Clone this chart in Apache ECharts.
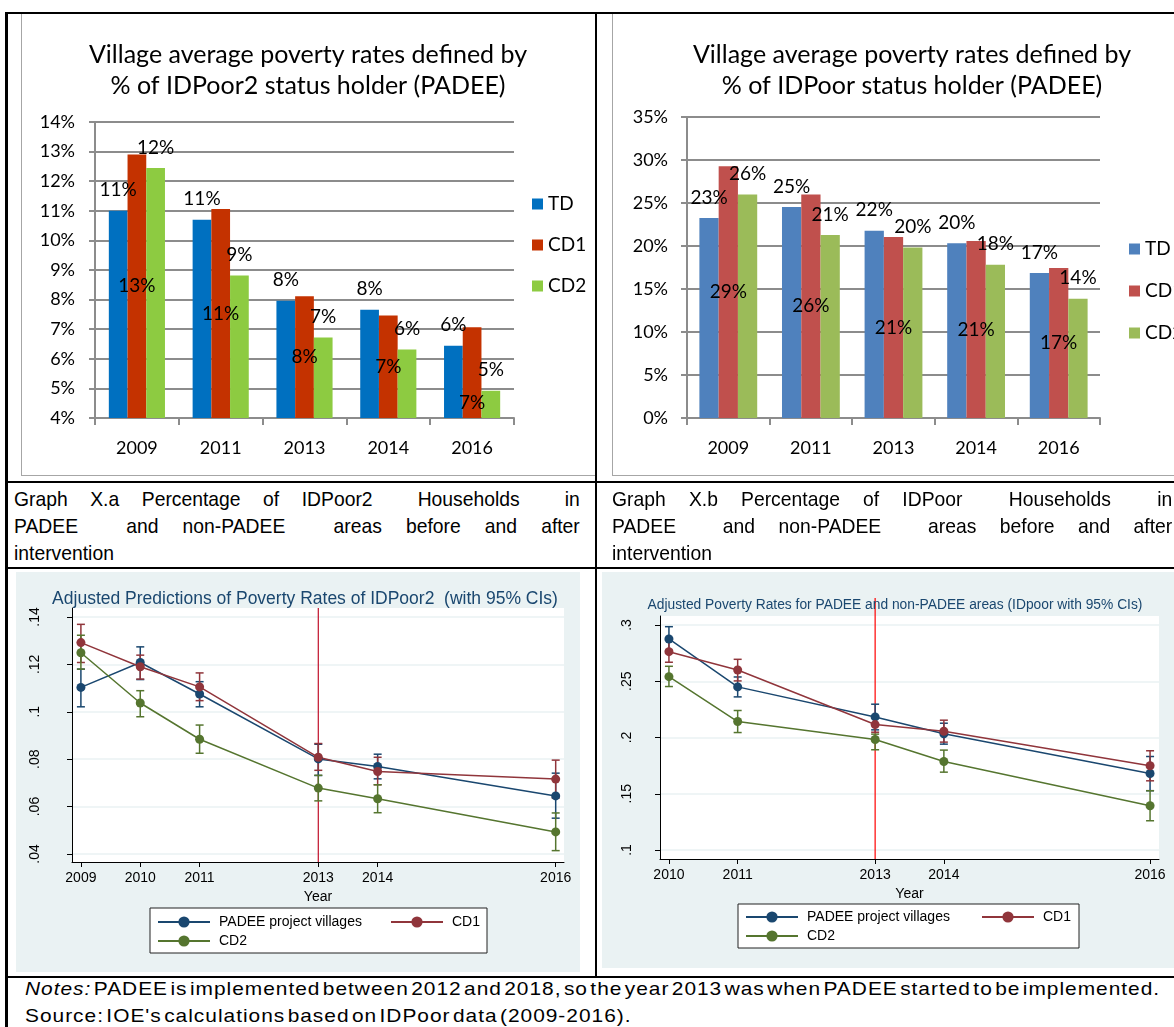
<!DOCTYPE html>
<html><head><meta charset="utf-8">
<script src="https://cdn.jsdelivr.net/npm/echarts@6/dist/echarts.min.js"></script>
<style>
html,body{margin:0;padding:0;background:#fff;}
body{width:1174px;height:1027px;overflow:hidden;position:relative;}
.abs{position:absolute;}
.bl{position:absolute;background:#000;}
.frame{position:absolute;border:1px solid #a6a6a6;box-sizing:border-box;pointer-events:none;}
.cap{position:absolute;font-family:"Liberation Sans",Arial,sans-serif;font-size:21px;line-height:27px;color:#000;transform:scaleX(0.92);transform-origin:0 0;}
.cap .j{text-align:justify;text-align-last:justify;white-space:pre-wrap;}
.note{position:absolute;font-family:"Liberation Sans",Arial,sans-serif;font-size:19px;line-height:27px;color:#000;white-space:nowrap;letter-spacing:0.9px;word-spacing:-4px;transform:scaleX(1.1);transform-origin:0 0;}
</style></head><body>
<div id="cA" class="abs" style="left:21px;top:14px;width:574px;height:461px;"></div>
<div class="frame" style="left:21px;top:13px;width:575px;height:463px;"></div>
<div id="cB" class="abs" style="left:612px;top:14px;width:600px;height:461px;"></div>
<div class="frame" style="left:612px;top:13px;width:620px;height:463px;"></div>
<div id="cC" class="abs" style="left:16px;top:572px;width:564px;height:400px;"></div>
<div id="cD" class="abs" style="left:602px;top:572px;width:600px;height:396px;"></div>

<div class="cap" style="left:14px;top:485px;width:615px;">
  <div class="j">Graph X.a Percentage of IDPoor2  Households  in</div>
  <div class="j">PADEE  and non-PADEE  areas before and after</div>
  <div>intervention</div>
</div>
<div class="cap" style="left:612px;top:485px;width:609px;">
  <div class="j">Graph X.b Percentage of IDPoor  Households  in</div>
  <div class="j">PADEE  and non-PADEE  areas before and after</div>
  <div>intervention</div>
</div>
<div class="note" style="left:25px;top:975px;"><i>Notes:</i> PADEE is implemented between 2012 and 2018, so the year 2013 was when PADEE started to be implemented.<br>Source: IOE's calculations based on IDPoor data (2009-2016).</div>

<div class="bl" style="left:5px;top:12px;width:1169px;height:2px;"></div>
<div class="bl" style="left:5px;top:12px;width:3px;height:1015px;"></div>
<div class="bl" style="left:595px;top:12px;width:2px;height:966px;"></div>
<div class="bl" style="left:5px;top:481px;width:1169px;height:2px;"></div>
<div class="bl" style="left:5px;top:567px;width:1169px;height:2px;"></div>
<div class="bl" style="left:5px;top:976px;width:1169px;height:2px;"></div>

<script>
// ---------- Top charts data ----------
const barYears = ['2009', '2011', '2013', '2014', '2016'];
const seriesNames = ['TD', 'CD1', 'CD2'];
// Graph X.a (IDPoor2), percent
const tdA = [11.0, 10.7, 7.96, 7.66, 6.44];
const cd1A = [12.9, 11.06, 8.11, 7.46, 7.07];
const cd2A = [12.45, 8.81, 6.72, 6.31, 4.92];
// Graph X.b (IDPoor), percent
const tdB = [23.26, 24.53, 21.78, 20.31, 16.86];
const cd1B = [29.26, 26.0, 21.05, 20.58, 17.45];
const cd2B = [26.0, 21.28, 19.84, 17.83, 13.88];

// ---------- Bottom charts data ----------
const intervention = 2013;
// Left (IDPoor2) — axis positions and printed labels
const posC = [2009, 2010, 2011, 2013, 2014, 2017];
const labC = ['2009', '2010', '2011', '2013', '2014', '2016'];
const yTicksC = [0.04, 0.06, 0.08, 0.10, 0.12, 0.14];
const padeeC = [0.1103, 0.1208, 0.1075, 0.0801, 0.0769, 0.0645];
const padeeCLo = [0.1021, 0.1136, 0.1021, 0.0731, 0.0717, 0.0551];
const padeeCHi = [0.1180, 0.1274, 0.1127, 0.0863, 0.0821, 0.0741];
const cd1C = [0.1292, 0.1190, 0.1105, 0.0808, 0.0748, 0.0716];
const cd1CLo = [0.1208, 0.1138, 0.1047, 0.0753, 0.0692, 0.0636];
const cd1CHi = [0.1369, 0.1239, 0.1164, 0.0866, 0.0808, 0.0796];
const cd2C = [0.1249, 0.1037, 0.0884, 0.0678, 0.0633, 0.0493];
const cd2CLo = [0.1180, 0.0979, 0.0825, 0.0624, 0.0574, 0.0414];
const cd2CHi = [0.1323, 0.1089, 0.0944, 0.0732, 0.0692, 0.0573];
// Right (IDpoor)
const posD = [2010, 2011, 2013, 2014, 2017];
const labD = ['2010', '2011', '2013', '2014', '2016'];
const yTicksD = [0.10, 0.15, 0.20, 0.25, 0.30];
const padeeD = [0.2876, 0.2450, 0.2183, 0.2033, 0.1680];
const padeeDLo = [0.2775, 0.2361, 0.2068, 0.1941, 0.1527];
const padeeDHi = [0.2985, 0.2538, 0.2296, 0.2127, 0.1831];
const cd1D = [0.2763, 0.2600, 0.2115, 0.2056, 0.1749];
const cd1DLo = [0.2669, 0.2503, 0.2047, 0.1959, 0.1615];
const cd1DHi = [0.2867, 0.2695, 0.2186, 0.2154, 0.1882];
const cd2D = [0.2541, 0.2142, 0.1982, 0.1787, 0.1393];
const cd2DLo = [0.2453, 0.2044, 0.1891, 0.1692, 0.1260];
const cd2DHi = [0.2633, 0.2240, 0.2030, 0.1888, 0.1527];
const lineNames = ['PADEE project villages', 'CD1', 'CD2'];

const CAL = 'Lato, "Open Sans", sans-serif';
const ARIAL = '"Liberation Sans", Arial, sans-serif';
const GRID_GRAY = '#8c8c8c';

function barChart(el, o) {
  const ch = echarts.init(el, null, {renderer: 'canvas'});
  const pct = p => Math.round(p.value) + '%';
  const lab = (pos) => ({show: true, position: pos, distance: 11, formatter: pct,
    color: '#000', fontFamily: CAL, fontSize: 19});
  const cd1Data = o.cd1.map((v, i) => (o.cd1Offset && o.cd1Offset[i]) ? {value: v, label: {offset: o.cd1Offset[i]}} : v);
  ch.setOption({
    animation: false,
    title: {text: o.title, left: 'center', top: 20,
      textStyle: {fontFamily: CAL, fontSize: 25, fontWeight: 'normal', lineHeight: 31, color: '#000'}},
    legend: {orient: 'vertical', left: o.legendLeft, top: o.legendTop, icon: 'rect', padding: 0,
      itemWidth: 11, itemHeight: 11, itemGap: o.legendGap,
      textStyle: {fontFamily: CAL, fontSize: 19, lineHeight: 20, color: '#000'},
      data: seriesNames},
    grid: o.grid,
    xAxis: {type: 'category', data: barYears,
      axisLine: {lineStyle: {color: GRID_GRAY, width: 2}},
      axisTick: {show: true, length: 7, alignWithLabel: false, lineStyle: {color: GRID_GRAY, width: 2}},
      axisLabel: {fontFamily: CAL, fontSize: 18, color: '#000', margin: 21}},
    yAxis: {type: 'value', min: o.min, max: o.max, interval: o.interval,
      axisLine: {show: true, lineStyle: {color: GRID_GRAY, width: 2}},
      axisTick: {show: true, length: 6, lineStyle: {color: GRID_GRAY, width: 2}},
      splitLine: {lineStyle: {color: GRID_GRAY, width: 2}},
      axisLabel: {formatter: '{value}%', fontFamily: CAL, fontSize: 18, color: '#000', margin: o.yMargin}},
    series: [
      {name: 'TD', type: 'bar', data: o.td, itemStyle: {color: o.colors[0]}, label: lab('top'),
        barGap: '0%', barCategoryGap: o.catGap},
      {name: 'CD1', type: 'bar', data: cd1Data, itemStyle: {color: o.colors[1]}, label: lab('inside')},
      {name: 'CD2', type: 'bar', data: o.cd2, itemStyle: {color: o.colors[2]}, label: lab('top')}
    ]
  });
}

barChart(document.getElementById('cA'), {
  title: 'Village average poverty rates defined by\n% of IDPoor2 status holder (PADEE)',
  grid: {left: 74, top: 108, width: 419, height: 296},
  min: 4, max: 14, interval: 1, catGap: '33%', yMargin: 20,
  td: tdA, cd1: cd1A, cd2: cd2A, cd1Offset: [null, null, null, null, [0, 30]],
  colors: ['#0070C0', '#C43200', '#8DCB41'],
  legendLeft: 511, legendTop: 180, legendGap: 21
});
barChart(document.getElementById('cB'), {
  title: 'Village average poverty rates defined by\n% of IDPoor status holder (PADEE)',
  grid: {left: 75, top: 103, width: 413, height: 301},
  min: 0, max: 35, interval: 5, catGap: '30%', yMargin: 19,
  td: tdB, cd1: cd1B, cd2: cd2B,
  colors: ['#4F81BD', '#C0504D', '#9BBB59'],
  legendLeft: 517, legendTop: 225, legendGap: 22
});

function tickFmt(v) { return String(+v.toFixed(2)).replace(/^0/, ''); }

function lineChart(el, o) {
  const ch = echarts.init(el, null, {renderer: 'canvas'});
  const colors = ['#1a476f', '#90353b', '#55752f'];
  const mains = [o.padee, o.cd1, o.cd2];
  const los = [o.padeeLo, o.cd1Lo, o.cd2Lo];
  const his = [o.padeeHi, o.cd1Hi, o.cd2Hi];
  const series = [];
  // red intervention line
  series.push({type: 'custom', name: 'intervention', silent: true, z: 1,
    renderItem: (params, api) => {
      const x = api.coord([api.value(0), o.yMin])[0];
      const cs = params.coordSys;
      return {type: 'line', shape: {x1: x, y1: cs.y - o.redExt, x2: x, y2: cs.y + cs.height},
        style: {stroke: o.redColor, lineWidth: 1.2}};
    },
    data: [[intervention]]});
  // error bars (95% CIs)
  for (let k = 0; k < 3; k++) {
    series.push({type: 'custom', name: 'ci' + k, silent: true, z: 2,
      renderItem: (params, api) => {
        const pl = api.coord([api.value(0), api.value(1)]);
        const ph = api.coord([api.value(0), api.value(2)]);
        const w = 4;
        const st = {stroke: colors[k], lineWidth: 1.5};
        return {type: 'group', children: [
          {type: 'line', shape: {x1: pl[0], y1: pl[1], x2: ph[0], y2: ph[1]}, style: st},
          {type: 'line', shape: {x1: pl[0] - w, y1: pl[1], x2: pl[0] + w, y2: pl[1]}, style: st},
          {type: 'line', shape: {x1: ph[0] - w, y1: ph[1], x2: ph[0] + w, y2: ph[1]}, style: st}
        ]};
      },
      data: o.pos.map((x, i) => [x, los[k][i], his[k][i]])});
  }
  for (let k = 0; k < 3; k++) {
    series.push({type: 'line', name: lineNames[k], z: 3,
      data: o.pos.map((x, i) => [x, mains[k][i]]),
      symbol: 'circle', symbolSize: 9,
      itemStyle: {color: colors[k]}, lineStyle: {color: colors[k], width: 1.5}});
  }
  const legendBase = {itemWidth: 52, itemHeight: 14, padding: 0,
    textStyle: {fontFamily: ARIAL, fontSize: 14, color: '#000', padding: [0, 0, 0, 4]}};
  ch.setOption({
    animation: false,
    backgroundColor: '#EAF2F3',
    title: {text: o.title, left: o.titleX, top: o.titleTop, textAlign: 'center',
      textStyle: {fontFamily: ARIAL, fontSize: o.titleSize, fontWeight: 'normal', color: '#1a476f'}},
    graphic: [{type: 'rect', z: 0, shape: o.legendBox, style: {fill: '#fff', stroke: '#222', lineWidth: 1}}],
    legend: [
      Object.assign({}, legendBase, {left: o.leg[0][0], top: o.leg[0][1], data: [lineNames[0]]}),
      Object.assign({}, legendBase, {left: o.leg[1][0], top: o.leg[1][1], data: [lineNames[1]]}),
      Object.assign({}, legendBase, {left: o.leg[2][0], top: o.leg[2][1], data: [lineNames[2]]})
    ],
    grid: Object.assign({show: true, backgroundColor: '#fff', borderWidth: 0}, o.grid),
    xAxis: {type: 'value', min: o.xMin, max: o.xMax,
      name: 'Year', nameLocation: 'middle', nameGap: o.nameGap,
      nameTextStyle: {fontFamily: ARIAL, fontSize: 14, color: '#000'},
      axisLine: {lineStyle: {color: '#000', width: 1}},
      axisTick: {show: true, length: 5, customValues: o.pos, lineStyle: {color: '#000'}},
      axisLabel: {customValues: o.pos, formatter: v => o.lab[o.pos.indexOf(v)],
        fontFamily: ARIAL, fontSize: 14, color: '#000', margin: o.xMargin},
      splitLine: {show: false}},
    yAxis: {type: 'value', min: o.yMin, max: o.yMax,
      axisLine: {show: true, lineStyle: {color: '#000', width: 1}},
      axisTick: {show: true, length: 5, customValues: o.yTicks, lineStyle: {color: '#000'}},
      axisLabel: {customValues: o.yTicks, formatter: tickFmt, rotate: 90,
        fontFamily: ARIAL, fontSize: 14, color: '#000', margin: o.yMargin},
      splitLine: {show: true, lineStyle: {color: '#EAF2F3', width: 1.5}}},
    series: series
  });
}

lineChart(document.getElementById('cC'), {
  title: 'Adjusted Predictions of Poverty Rates of IDPoor2  (with 95% CIs)', titleX: 284, titleTop: 13, titleSize: 17.5,
  grid: {left: 56, top: 36, width: 492, height: 254},
  xMin: 2008.85, xMax: 2017.14, yMin: 0.0366, yMax: 0.1438,
  pos: posC, lab: labC, yTicks: yTicksC,
  padee: padeeC, padeeLo: padeeCLo, padeeHi: padeeCHi,
  cd1: cd1C, cd1Lo: cd1CLo, cd1Hi: cd1CHi,
  cd2: cd2C, cd2Lo: cd2CLo, cd2Hi: cd2CHi,
  redColor: '#c0102a', redExt: 0, nameGap: 23, xMargin: 9, yMargin: 30,
  legendBox: {x: 134, y: 336, width: 337, height: 45},
  leg: [[141, 343], [374, 343], [141, 362]]
});
lineChart(document.getElementById('cD'), {
  title: 'Adjusted Poverty Rates for PADEE and non-PADEE areas (IDpoor with 95% CIs)', titleX: 288, titleTop: 21, titleSize: 13.8,
  grid: {left: 58, top: 44, width: 499, height: 243},
  xMin: 2009.87, xMax: 2017.13, yMin: 0.092, yMax: 0.308,
  pos: posD, lab: labD, yTicks: yTicksD,
  padee: padeeD, padeeLo: padeeDLo, padeeHi: padeeDHi,
  cd1: cd1D, cd1Lo: cd1DLo, cd1Hi: cd1DHi,
  cd2: cd2D, cd2Lo: cd2DLo, cd2Hi: cd2DHi,
  redColor: '#ff0000', redExt: 18, nameGap: 22, xMargin: 9, yMargin: 26,
  legendBox: {x: 136, y: 332, width: 341, height: 44},
  leg: [[143, 338], [379, 338], [143, 357]]
});
</script>
</body></html>
